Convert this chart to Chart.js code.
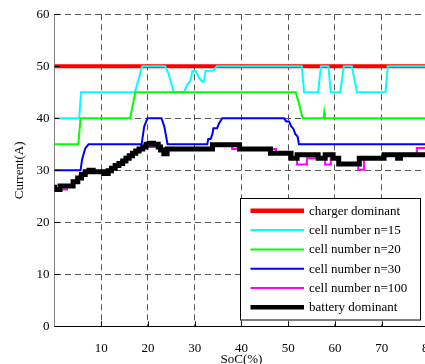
<!DOCTYPE html>
<html>
<head>
<meta charset="utf-8">
<script src="https://cdn.jsdelivr.net/npm/chart.js@4/dist/chart.umd.min.js"></script>
<style>
html,body{margin:0;padding:0;background:#fff;overflow:hidden;width:425px;height:364px;}
#wrap{position:absolute;left:0;top:0;width:449px;height:380px;}
</style>
</head>
<body>
<div id="wrap"><canvas id="c" width="449" height="380"></canvas></div>
<script>
// ---- data ----
const xTicks = [10, 20, 30, 40, 50, 60, 70, 80];
const yTicks = [0, 10, 20, 30, 40, 50, 60];
const seriesLabels = ['charger dominant', 'cell number n=15', 'cell number n=20', 'cell number n=30', 'cell number n=100', 'battery dominant'];

const chargerSoc = [0, 80];
const chargerCur = [50, 50];

const n15Soc = [0, 5.3, 5.7, 17.2, 18.8, 23.7, 24.4, 25.5, 27.7, 28.4, 29.1, 29.5, 30.2, 30.9, 31.6, 32.0, 32.3, 34.0, 34.7, 52.9, 53.4, 56.4, 57.0, 58.6, 59.1, 61.1, 61.9, 63.6, 64.7, 70.8, 71.3, 80];
const n15Cur = [40, 40, 45, 45, 50, 50, 48.6, 45, 45, 46.5, 47.2, 49.1, 49.1, 47.8, 47.1, 47.1, 49.1, 49.2, 50, 50, 45, 45, 50, 50, 45, 45, 50, 50, 45, 45, 50, 50];

const n20Soc = [0, 5.1, 5.6, 16.2, 17.3, 51.6, 52.1, 53.1, 57.55, 57.7, 57.85, 80];
const n20Cur = [35, 35, 40, 40, 45, 45, 43.5, 40, 40, 41.1, 40, 40];

const n30Soc = [0, 5.6, 5.9, 6.3, 6.6, 7.3, 18.65, 19.2, 19.9, 22.9, 23.5, 24.2, 32.7, 32.9, 33.4, 33.8, 34.0, 34.8, 35.2, 35.9, 49.1, 49.6, 50.2, 50.6, 51.1, 51.5, 52.0, 52.3, 80];
const n30Cur = [30, 30, 32, 33.3, 34.2, 35, 35, 38.4, 40, 40, 38.4, 35, 35, 36, 36, 37, 38.1, 38.1, 39, 40, 40, 39.4, 39.4, 38.5, 38, 37, 36.5, 35, 35];

const n100Soc = [0, 2.7, 3.9, 4.6, 5.4, 6.2, 7.0, 7.9, 10.6, 11.5, 12.0, 12.7, 13.5, 14.3, 15.0, 15.7, 16.4, 17.1, 17.8, 18.6, 19.3, 20.0, 22.8, 23.4, 24.1, 33.8, 38.0, 47.4, 50.6, 51.9, 54.0, 56.0, 56.4, 57.9, 59.1, 60.0, 60.8, 65.0, 66.2, 70.6, 73.4, 74.0, 77.5, 79.2, 80];
const n100Cur = [27.2, 26.3, 27.0, 27.8, 28.5, 29.2, 29.7, 30.0, 29.7, 29.4, 29.9, 30.4, 30.9, 31.3, 31.8, 32.3, 32.8, 33.3, 33.7, 34.1, 34.5, 35.0, 34.5, 33.9, 33.2, 34.1, 34.9, 34.1, 33.3, 32.3, 31.1, 32.3, 33.0, 32.3, 31.1, 32.3, 32.3, 31.1, 30.1, 32.3, 33.0, 32.3, 33.0, 34.3, 34.3];

const batterySoc = [0, 1.2, 4.0, 5.0, 5.8, 6.6, 7.4, 8.3, 10.6, 11.5, 12.2, 13.0, 13.8, 14.6, 15.3, 16.0, 16.7, 17.4, 18.1, 18.9, 19.6, 20.3, 21.2, 22.2, 22.7, 23.4, 24.1, 33.8, 39.6, 46.2, 50.6, 51.9, 56.4, 57.9, 59.6, 60.8, 65.2, 70.5, 73.4, 74.0, 77.5, 80];
const batteryCur = [27.2, 26.3, 27.0, 27.8, 28.5, 29.2, 29.7, 30.0, 29.7, 29.4, 29.9, 30.4, 30.9, 31.3, 31.8, 32.3, 32.8, 33.3, 33.7, 34.1, 34.5, 35.0, 35.2, 35.0, 34.5, 33.9, 33.2, 34.1, 34.9, 34.1, 33.3, 32.3, 33.0, 32.3, 33.0, 32.3, 31.2, 32.3, 33.0, 32.3, 33.0, 33.0];

// ---- build datasets ----
const zip = (xs, ys) => xs.map((x, i) => ({x: x, y: ys[i]}));
const FONT = "'Liberation Serif', 'Times New Roman', serif";
Chart.defaults.font.family = FONT;
Chart.defaults.font.size = 13;
Chart.defaults.color = '#000';

const datasets = [
  {label: seriesLabels[0], data: zip(chargerSoc, chargerCur), borderColor: '#ff0000', borderWidth: 4, order: 6, legendWidth: 4.5},
  {label: seriesLabels[1], data: zip(n15Soc, n15Cur), borderColor: '#00ffff', borderWidth: 2, order: 5, legendWidth: 2},
  {label: seriesLabels[2], data: zip(n20Soc, n20Cur), borderColor: '#00ff00', borderWidth: 2, order: 4, legendWidth: 2},
  {label: seriesLabels[3], data: zip(n30Soc, n30Cur), borderColor: '#0000ff', borderWidth: 2, order: 3, legendWidth: 2},
  {label: seriesLabels[4], data: zip(n100Soc, n100Cur), borderColor: '#ff00ff', borderWidth: 2, order: 2, stepped: 'after', legendWidth: 2},
  {label: seriesLabels[5], data: zip(batterySoc, batteryCur), borderColor: '#000000', borderWidth: 5, order: 1, stepped: 'after', legendWidth: 4.5}
].map(d => Object.assign({pointRadius: 0, tension: 0, fill: false, borderJoinStyle: 'miter', borderCapStyle: 'butt'}, d));

// inward tick marks
const inwardTicks = {
  id: 'inwardTicks',
  afterDatasetsDraw(chart) {
    const ctx = chart.ctx, a = chart.chartArea;
    const xs = chart.scales.x, ys = chart.scales.y;
    ctx.save();
    ctx.strokeStyle = '#000';
    ctx.lineWidth = 1;
    ctx.beginPath();
    xTicks.forEach(v => { const p = Math.round(xs.getPixelForValue(v)) + 0.5; ctx.moveTo(p, a.bottom); ctx.lineTo(p, a.bottom - 5); });
    yTicks.forEach(v => { const p = Math.round(ys.getPixelForValue(v)) + 0.5; ctx.moveTo(a.left, p); ctx.lineTo(a.left + 5, p); });
    ctx.stroke();
    ctx.restore();
  }
};

// boxed legend inside the plot (bottom-right)
const boxLegend = {
  id: 'boxLegend',
  afterDraw(chart) {
    const ctx = chart.ctx, a = chart.chartArea;
    const w = 180, h = 121.5, rowH = 19.3;
    const right = a.right - 8.7, bottom = a.bottom - 7;
    const left = Math.round(right - w) + 0.5, top = Math.round(bottom - h) + 0.5;
    ctx.save();
    ctx.fillStyle = '#fff';
    ctx.fillRect(left, top, w, h);
    ctx.strokeStyle = '#000';
    ctx.lineWidth = 1;
    ctx.strokeRect(left, top, w, h);
    ctx.font = '13px ' + FONT;
    ctx.textBaseline = 'middle';
    ctx.textAlign = 'left';
    chart.data.datasets.forEach((ds, i) => {
      const y = top + 12.3 + i * rowH;
      ctx.beginPath();
      ctx.strokeStyle = ds.borderColor;
      ctx.lineWidth = ds.legendWidth;
      ctx.moveTo(left + 10, y);
      ctx.lineTo(left + 63.5, y);
      ctx.stroke();
      ctx.fillStyle = '#000';
      ctx.fillText(ds.label, left + 68.5, y + 0.5);
    });
    ctx.restore();
  }
};

new Chart(document.getElementById('c'), {
  type: 'line',
  data: {datasets: datasets},
  options: {
    responsive: false,
    animation: false,
    layout: {padding: {top: 14.3, right: 12.8, left: 0, bottom: 0}},
    plugins: {legend: {display: false}, tooltip: {enabled: false}},
    scales: {
      x: {
        type: 'linear', min: 0, max: 80,
        afterBuildTicks: s => { s.ticks = xTicks.map(v => ({value: v})); },
        afterFit: s => { s.height = 380 - 326.3; },
        grid: {color: '#555', lineWidth: 1, drawTicks: false},
        border: {display: true, color: '#000', width: 1, dash: [6, 4]},
        ticks: {padding: 14, maxRotation: 0, autoSkip: false, callback: v => String(v)},
        title: {display: true, text: 'SoC(%)', padding: {top: 0, bottom: 12.2}}
      },
      y: {
        type: 'linear', min: 0, max: 60,
        afterBuildTicks: s => { s.ticks = yTicks.map(v => ({value: v})); },
        afterFit: s => { s.width = 54.4; },
        grid: {color: '#555', lineWidth: 1, drawTicks: false},
        border: {display: true, color: '#808080', width: 1, dash: [6, 4]},
        ticks: {padding: 5, autoSkip: false, callback: v => String(v)},
        title: {display: true, text: 'Current(A)', padding: {top: 12, bottom: 0}}
      }
    }
  },
  plugins: [inwardTicks, boxLegend]
});
</script>
</body>
</html>
